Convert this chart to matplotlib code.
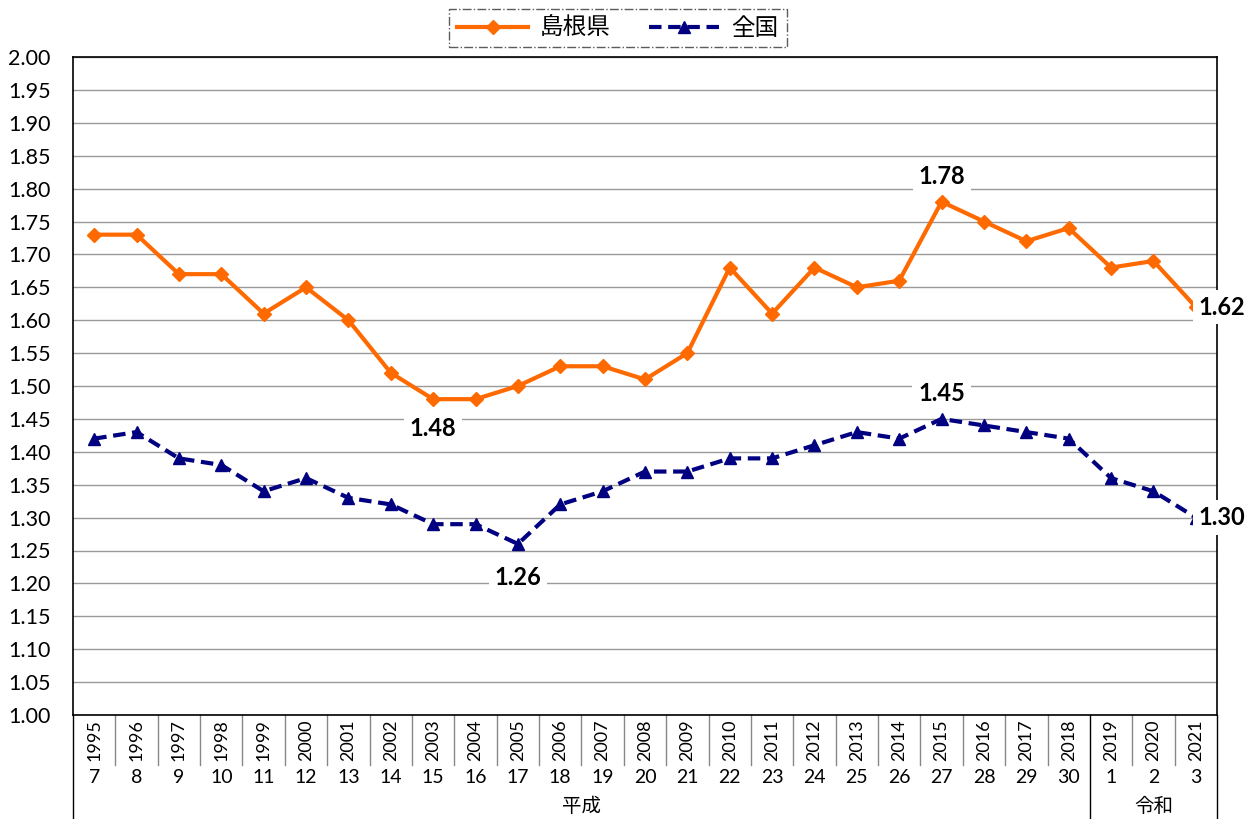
import matplotlib
matplotlib.use('Agg')
import matplotlib.pyplot as plt
import matplotlib.transforms as mtransforms
from matplotlib.lines import Line2D

plt.rcParams['font.family'] = ['Lato', 'Noto Sans CJK JP', 'DejaVu Sans']

years = list(range(1995, 2022))
era_nums = ['7', '8', '9', '10', '11', '12', '13', '14', '15', '16', '17', '18', '19', '20',
            '21', '22', '23', '24', '25', '26', '27', '28', '29', '30', '1', '2', '3']
eras = [('平成', 0, 24), ('令和', 24, 27)]

shimane = [1.73, 1.73, 1.67, 1.67, 1.61, 1.65, 1.60, 1.52, 1.48, 1.48, 1.50, 1.53, 1.53, 1.51,
           1.55, 1.68, 1.61, 1.68, 1.65, 1.66, 1.78, 1.75, 1.72, 1.74, 1.68, 1.69, 1.62]
zenkoku = [1.42, 1.43, 1.39, 1.38, 1.34, 1.36, 1.33, 1.32, 1.29, 1.29, 1.26, 1.32, 1.34, 1.37,
           1.37, 1.39, 1.39, 1.41, 1.43, 1.42, 1.45, 1.44, 1.43, 1.42, 1.36, 1.34, 1.30]

ORANGE = '#FF6A00'
NAVY = '#000080'

fig = plt.figure(figsize=(12.57, 8.19), dpi=100)
ax = fig.add_axes([73 / 1257, 1 - 715 / 819, (1217 - 73) / 1257, (715 - 57) / 819])

x = list(range(len(years)))
ax.plot(x, shimane, color=ORANGE, lw=3, marker='D', ms=7, zorder=3)
ax.plot(x, zenkoku, color=NAVY, lw=3, ls=(0, (3, 1.6)), marker='^', ms=9, zorder=3)

ax.set_xlim(-0.5, len(years) - 0.5)
ax.set_ylim(1.0, 2.0)
yt = [1.0 + 0.05 * i for i in range(21)]
ax.set_yticks(yt)
ax.set_yticklabels(['%.2f' % v for v in yt], fontsize=15.5)
ax.tick_params(axis='y', length=0, pad=16)
ax.set_xticks([])
ax.grid(axis='y', color='#999999', lw=1)
ax.set_axisbelow(True)
for s in ax.spines.values():
    s.set_color('black')
    s.set_linewidth(1.2)

# value labels
box = dict(facecolor='white', edgecolor='none', pad=4)
def label(i, val, dy, ha='center', dx=0):
    ax.annotate('%.2f' % val, (i, val), xytext=(dx, dy), textcoords='offset points',
                ha=ha, va='center', fontsize=17, fontweight='bold', bbox=box, zorder=5)

label(20, shimane[20], 18)
label(8, shimane[8], -21)
label(10, zenkoku[10], -24)
label(20, zenkoku[20], 18)
label(26, shimane[26], 0, ha='left', dx=2)
label(26, zenkoku[26], 0, ha='left', dx=2)

# category table under the axis
trans = mtransforms.blended_transform_factory(ax.transData, ax.transAxes)
for i, (y, n) in enumerate(zip(years, era_nums)):
    ax.text(i, -0.038, str(y), rotation=90, ha='center', va='center', fontsize=13,
            transform=trans)
    ax.text(i, -0.095, n, ha='center', va='center', fontsize=14, transform=trans)
group_edges = set()
for name, a, b in eras:
    ax.text((a + b - 1) / 2, -0.138, name, ha='center', va='center', fontsize=14,
            transform=trans)
    group_edges.update([a, b])
for k in range(len(years) + 1):
    y0 = -0.158 if k in group_edges else -0.076
    ax.add_line(Line2D([k - 0.5, k - 0.5], [0, y0], color='#888888' if k not in group_edges else 'black',
                       lw=1, transform=trans, clip_on=False))

# legend
handles = [Line2D([], [], color=ORANGE, lw=3, marker='D', ms=7),
           Line2D([], [], color=NAVY, lw=3, ls=(0, (3, 1.6)), marker='^', ms=9)]
leg = fig.legend(handles, ['島根県', '全国'], loc='center', bbox_to_anchor=(618 / 1257, 1 - 28 / 819),
                 ncol=2, fontsize=17, frameon=True, fancybox=False, handlelength=3.0,
                 handletextpad=0.5, columnspacing=1.6, borderpad=0.35)
fr = leg.get_frame()
fr.set_edgecolor('#333333')
fr.set_linestyle('-.')
fr.set_linewidth(1)

fig.savefig('out.png', dpi=100)
